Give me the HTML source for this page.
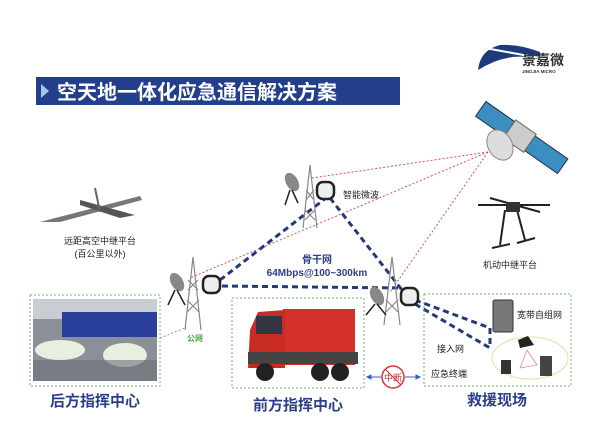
<!DOCTYPE html>
<html><head><meta charset="utf-8"><style>
html,body{margin:0;padding:0;background:#fff;}
svg{display:block;font-family:"Liberation Sans","Noto Sans CJK SC",sans-serif;}
</style></head><body>
<svg width="600" height="428" viewBox="0 0 600 428" xmlns="http://www.w3.org/2000/svg">
<rect width="600" height="428" fill="#fff"/>
<!-- logo -->
<path d="M478 70 Q480 50 500 45 Q520 44 540 52 L540 60 Q510 50 478 70 Z" fill="#1d3a7a"/>
<path d="M485 48 L540 58" stroke="#fff" stroke-width="2"/>
<text x="522" y="65" font-size="14" font-weight="bold" fill="#333">景嘉微</text>
<text x="522" y="73" font-size="4.5" font-weight="bold" fill="#333">JINGJIA MICRO</text>
<!-- title -->
<rect x="36" y="77" width="364" height="28" fill="#233e8b"/>
<polygon points="41,84 49,91 41,98" fill="#9ec8ee"/>
<text x="57" y="99" font-size="20" font-weight="bold" fill="#fff">空天地一体化应急通信解决方案</text>
<!-- red dotted lines -->
<g stroke="#d9534f" stroke-width="1" stroke-dasharray="2,2" fill="none">
<line x1="488" y1="152" x2="312" y2="178"/>
<line x1="488" y1="152" x2="190" y2="278"/>
<line x1="488" y1="152" x2="390" y2="292"/>
</g>
<!-- blue dashed -->
<g stroke="#22397a" stroke-width="3" stroke-dasharray="6,4" fill="none">
<line x1="220" y1="280" x2="326" y2="198"/>
<line x1="222" y1="286" x2="400" y2="288"/>
<line x1="330" y1="198" x2="402" y2="290"/>
<line x1="415" y1="300" x2="490" y2="328"/>
<line x1="415" y1="304" x2="490" y2="348"/>
<line x1="490" y1="328" x2="490" y2="348"/>
</g>
<!-- satellite -->
<g transform="rotate(35 520 140)">
<rect x="470" y="128" width="35" height="18" fill="#3a8fc0" stroke="#234" stroke-width="1"/>
<rect x="530" y="128" width="40" height="18" fill="#3a8fc0" stroke="#234" stroke-width="1"/>
<rect x="505" y="126" width="25" height="22" fill="#ccc" stroke="#666"/>
</g>
<ellipse cx="500" cy="145" rx="12" ry="16" fill="#ddd" stroke="#888" transform="rotate(-30 500 145)"/>
<!-- drone -->
<path d="M40 222 L140 196 L142 200 L60 222 Z" fill="#777"/>
<path d="M80 200 L135 215 L120 218 L80 205 Z" fill="#555"/>
<path d="M95 188 L100 212" stroke="#666" stroke-width="2"/>
<text x="100" y="244" font-size="9" fill="#222" text-anchor="middle">远距高空中继平台</text>
<text x="100" y="257" font-size="9" fill="#222" text-anchor="middle">(百公里以外)</text>
<!-- quadcopter -->
<g stroke="#222" stroke-width="2" fill="none">
<line x1="478" y1="205" x2="550" y2="205"/>
<line x1="490" y1="198" x2="540" y2="212"/>
<line x1="505" y1="210" x2="500" y2="245"/>
<line x1="517" y1="210" x2="525" y2="240"/>
<line x1="492" y1="248" x2="510" y2="244"/>
<line x1="517" y1="243" x2="535" y2="238"/>
</g>
<rect x="506" y="202" width="14" height="10" fill="#333"/>
<text x="510" y="268" font-size="9" fill="#222" text-anchor="middle">机动中继平台</text>
<!-- towers -->
<g stroke="#888" stroke-width="1.2" fill="none">
<path d="M310 165 L303 228 M310 165 L317 228 M305 210 L315 220 M315 210 L305 220 M306 190 L314 200 M314 190 L306 200"/>
<path d="M193 257 L185 330 M193 257 L201 330 M187 300 L199 312 M199 300 L187 312 M188 280 L198 290 M198 280 L188 290"/>
<path d="M392 257 L384 325 M392 257 L400 325 M386 300 L398 312 M398 300 L386 312"/>
</g>
<!-- dishes and boxes -->
<g fill="#888">
<ellipse cx="292" cy="182" rx="6" ry="10" transform="rotate(-30 292 182)"/>
<path d="M290 190 L285 205 M292 190 L298 203" stroke="#222" stroke-width="1.5"/>
<ellipse cx="177" cy="282" rx="6" ry="10" transform="rotate(-30 177 282)"/>
<path d="M175 290 L168 305 M177 290 L185 305" stroke="#222" stroke-width="1.5"/>
<ellipse cx="377" cy="296" rx="6" ry="10" transform="rotate(-30 377 296)"/>
<path d="M375 304 L366 315 M377 304 L386 315" stroke="#222" stroke-width="1.5"/>
</g>
<g fill="#eee" stroke="#222" stroke-width="2.5">
<rect x="317" y="182" width="17" height="17" rx="6"/>
<rect x="203" y="276" width="17" height="17" rx="6"/>
<rect x="401" y="288" width="17" height="17" rx="6"/>
</g>
<text x="343" y="198" font-size="9" fill="#222">智能微波</text>
<text x="317" y="263" font-size="10" font-weight="bold" fill="#2b3f8a" text-anchor="middle">骨干网</text>
<text x="317" y="276" font-size="10" font-weight="bold" fill="#2b3f8a" text-anchor="middle">64Mbps@100~300km</text>
<!-- boxes -->
<g fill="none" stroke="#6cb86c" stroke-width="1" stroke-dasharray="2,2">
<rect x="30" y="295" width="130" height="91"/>
<rect x="232" y="298" width="132" height="90"/>
<rect x="424" y="294" width="147" height="92"/>
<line x1="160" y1="338" x2="185" y2="328"/>
</g>
<!-- control room -->
<rect x="33" y="299" width="124" height="82" fill="#8a8f98"/>
<rect x="33" y="299" width="124" height="20" fill="#c9ccd2"/>
<rect x="62" y="312" width="95" height="25" fill="#2a3f9c"/>
<ellipse cx="60" cy="350" rx="25" ry="10" fill="#e8eee0"/>
<ellipse cx="125" cy="355" rx="22" ry="12" fill="#e8eee0"/>
<rect x="33" y="360" width="124" height="21" fill="#6d7078" opacity="0.6"/>
<text x="195" y="341" font-size="8" font-weight="bold" fill="#4caa4c" text-anchor="middle">公网</text>
<!-- truck -->
<rect x="283" y="309" width="72" height="56" fill="#d3302a"/>
<path d="M250 330 L258 312 L285 310 L285 368 L248 368 Z" fill="#c82b24"/>
<rect x="256" y="316" width="26" height="18" fill="#334"/>
<rect x="248" y="352" width="110" height="12" fill="#444"/>
<circle cx="265" cy="372" r="9" fill="#222"/>
<circle cx="320" cy="372" r="9" fill="#222"/>
<circle cx="340" cy="372" r="9" fill="#222"/>
<!-- interruption -->
<g stroke="#3b5cc8" stroke-width="1" fill="#3b5cc8">
<line x1="369" y1="377" x2="381" y2="377"/><polygon points="367,377 371,375 371,379"/>
<line x1="405" y1="377" x2="418" y2="377"/><polygon points="420,377 416,375 416,379"/>
</g>
<circle cx="393" cy="377" r="11" fill="#fff" stroke="#d33" stroke-width="1.5"/>
<line x1="385" y1="369" x2="401" y2="385" stroke="#d33" stroke-width="1"/>
<text x="393" y="381" font-size="9" fill="#c33" text-anchor="middle">中断</text>
<!-- rescue site -->
<rect x="493" y="300" width="20" height="32" rx="2" fill="#777" stroke="#333"/>
<text x="517" y="318" font-size="9" fill="#222">宽带自组网</text>
<ellipse cx="530" cy="358" rx="38" ry="21" fill="none" stroke="#f0d9a8"/>
<path d="M518 340 L528 336 L534 345 L520 348 Z" fill="#222"/>
<rect x="501" y="360" width="10" height="14" fill="#333"/>
<rect x="540" y="356" width="12" height="20" fill="#444"/>
<polygon points="527,350 520,368 537,365" fill="none" stroke="#e88" stroke-width="0.8"/>
<text x="437" y="352" font-size="9" fill="#222">接入网</text>
<text x="431" y="377" font-size="9" fill="#222">应急终端</text>
<!-- labels -->
<text x="95" y="406" font-size="15" font-weight="bold" fill="#2b3f8a" text-anchor="middle">后方指挥中心</text>
<text x="298" y="410" font-size="15" font-weight="bold" fill="#2b3f8a" text-anchor="middle">前方指挥中心</text>
<text x="497" y="405" font-size="15" font-weight="bold" fill="#2b3f8a" text-anchor="middle">救援现场</text>
</svg>
</body></html>
